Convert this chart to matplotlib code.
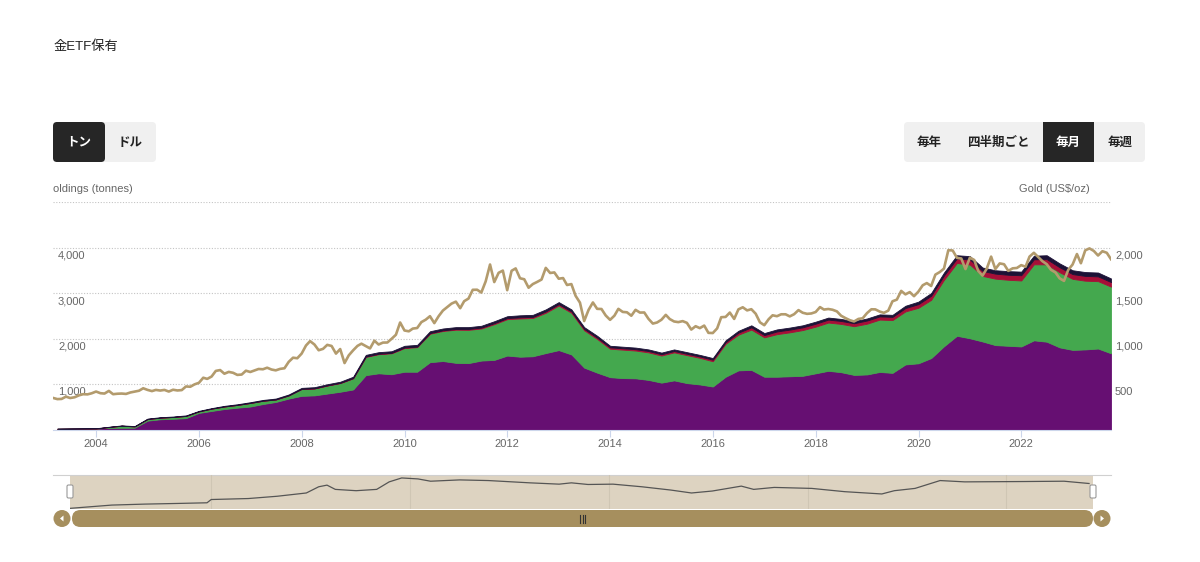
"""Gold ETF holdings by region (stacked, tonnes) with gold price overlay."""

import matplotlib

matplotlib.use("Agg")
import matplotlib.pyplot as plt  # noqa: E402
from matplotlib.patches import Circle, FancyBboxPatch, Polygon, Rectangle  # noqa: E402
import pandas as pd  # noqa: E402

plt.rcParams["font.family"] = ["Liberation Sans", "Noto Sans CJK JP", "DejaVu Sans"]

# gold price, US$/oz, month end (Feb 2003 .. Sep 2023)
gold_2003 = [347, 334, 336, 361, 346, 354, 375, 388, 386, 398, 417]
gold_2004 = [399, 395, 424, 388, 393, 395, 391, 407, 416, 426, 453, 435]
gold_2005 = [422, 435, 428, 435, 417, 437, 429, 433, 473, 470, 496, 513]
gold_2006 = [569, 556, 582, 644, 653, 613, 633, 623, 600, 604, 646, 632]
gold_2007 = [650, 665, 662, 679, 659, 650, 666, 673, 743, 789, 783, 834]
gold_2008 = [923, 971, 934, 871, 886, 930, 918, 834, 884, 730, 815, 870]
gold_2009 = [919, 943, 917, 891, 976, 934, 955, 956, 996, 1041, 1176, 1088]
gold_2010 = [1079, 1109, 1115, 1180, 1207, 1245, 1169, 1246, 1307, 1346, 1383, 1405]
gold_2011 = [1333, 1410, 1439, 1535, 1536, 1505, 1628, 1813, 1620, 1722, 1746, 1531]
gold_2012 = [1744, 1770, 1662, 1651, 1558, 1598, 1622, 1648, 1776, 1720, 1726, 1657]
gold_2013 = [1664, 1588, 1598, 1469, 1394, 1192, 1314, 1396, 1326, 1324, 1253, 1205]
gold_2014 = [1251, 1326, 1292, 1288, 1250, 1315, 1285, 1286, 1216, 1164, 1176, 1206]
gold_2015 = [1260, 1214, 1187, 1180, 1191, 1172, 1098, 1135, 1114, 1142, 1062, 1060]
gold_2016 = [1111, 1234, 1237, 1285, 1215, 1320, 1343, 1309, 1322, 1272, 1178, 1146]
gold_2017 = [1212, 1255, 1245, 1266, 1266, 1243, 1267, 1312, 1283, 1271, 1275, 1291]
gold_2018 = [1345, 1318, 1324, 1316, 1298, 1250, 1224, 1201, 1187, 1215, 1222, 1279]
gold_2019 = [1321, 1320, 1296, 1282, 1306, 1409, 1427, 1523, 1485, 1510, 1465, 1515]
gold_2020 = [1585, 1609, 1577, 1702, 1730, 1768, 1971, 1967, 1887, 1879, 1763, 1888]
gold_2021 = [1863, 1743, 1691, 1768, 1900, 1763, 1825, 1816, 1743, 1771, 1775, 1806]
gold_2022 = [1789, 1900, 1942, 1897, 1849, 1817, 1754, 1726, 1661, 1633, 1754, 1813]
gold_2023 = [1928, 1827, 1969, 1990, 1962, 1912, 1959, 1942, 1871]

gold = (gold_2003 + gold_2004 + gold_2005 + gold_2006 + gold_2007 + gold_2008
        + gold_2009 + gold_2010 + gold_2011 + gold_2012 + gold_2013 + gold_2014
        + gold_2015 + gold_2016 + gold_2017 + gold_2018 + gold_2019 + gold_2020
        + gold_2021 + gold_2022 + gold_2023)

# holdings by region, tonnes, quarter end (2003Q1 .. 2023Q3)
north_america = [
    15, 18, 20, 22, 35, 38, 40, 195, 225, 235, 250, 365,
    408, 450, 480, 505, 560, 605, 680, 740, 750, 790, 830, 880,
    1195, 1235, 1215, 1270, 1270, 1480, 1505, 1465, 1460, 1515, 1530, 1625,
    1600, 1610, 1680, 1745, 1650, 1360, 1250, 1150, 1130, 1125, 1090, 1030,
    1080, 1020, 990, 945, 1160, 1300, 1310, 1160, 1160, 1170, 1180, 1235,
    1290, 1260, 1200, 1210, 1265, 1245, 1430, 1455, 1570, 1830, 2060, 2005,
    1935, 1855, 1840, 1825, 1960, 1930, 1805, 1750, 1760, 1780, 1675,
]
europe = [
    0, 0, 0, 0, 20, 45, 28, 35, 35, 40, 48, 33,
    50, 56, 60, 78, 72, 55, 70, 152, 150, 175, 190, 245,
    400, 420, 460, 520, 540, 625, 660, 728, 730, 705, 785, 800,
    840, 840, 885, 980, 915, 820, 740, 625, 625, 610, 605, 595,
    615, 615, 585, 555, 725, 785, 885, 865, 935, 965, 1005, 1025,
    1060, 1060, 1070, 1115, 1150, 1160, 1165, 1220, 1280, 1460, 1600, 1620,
    1440, 1460, 1450, 1450, 1670, 1700, 1650, 1560, 1510, 1480, 1465,
]
asia = [
    0, 0, 0, 0, 0, 0, 0, 0, 0, 0, 0, 0,
    0, 0, 0, 0, 0, 0, 0, 0, 5, 5, 5, 5,
    10, 10, 10, 12, 12, 15, 15, 17, 20, 20, 23, 23,
    25, 25, 30, 30, 30, 30, 30, 30, 30, 30, 30, 30,
    30, 30, 30, 35, 35, 45, 50, 50, 60, 60, 60, 65,
    65, 65, 65, 70, 70, 70, 75, 80, 90, 95, 100, 110,
    110, 110, 110, 115, 110, 115, 110, 105, 105, 105, 100,
]
other = [
    5, 5, 6, 6, 5, 7, 7, 10, 10, 10, 12, 12,
    12, 14, 15, 17, 18, 20, 20, 23, 25, 25, 25, 30,
    35, 35, 35, 38, 38, 40, 40, 40, 40, 40, 42, 42,
    45, 45, 45, 45, 45, 40, 40, 35, 35, 35, 35, 35,
    35, 35, 35, 35, 40, 40, 45, 45, 45, 45, 45, 45,
    45, 45, 45, 45, 45, 45, 50, 55, 60, 65, 70, 75,
    75, 75, 80, 80, 80, 85, 85, 85, 85, 85, 80,
]

year_ticks = list(range(2004, 2024, 2))
left_ticks = [1000, 2000, 3000, 4000]
right_ticks = [500, 1000, 1500, 2000]

# navigator overview line (relative level)
nav_dates = ["2003-03", "2004-01", "2004-09", "2005-05", "2005-12", "2006-01",
             "2006-10", "2007-05", "2007-12", "2008-03", "2008-05", "2008-07",
             "2008-12", "2009-05", "2009-08", "2009-11", "2010-03", "2010-06",
             "2011-01", "2011-08", "2012-06", "2013-01", "2013-04", "2013-08",
             "2014-02", "2014-09", "2015-04", "2015-09", "2016-02", "2016-09",
             "2016-12", "2017-05", "2018-02", "2018-10", "2019-07", "2019-10",
             "2020-03", "2020-09", "2021-03", "2022-05", "2023-03", "2023-09"]
nav_level = [0, 10, 13, 15, 17, 27, 30, 37, 47, 66, 71, 58,
             54, 58, 81, 93, 90, 83, 87, 85, 78, 74, 78, 73,
             74, 66, 56, 47, 53, 68, 58, 64, 61, 51, 44, 54,
             61, 85, 81, 82, 83, 76]

COLORS = ["#660f72", "#44a84e", "#a60f37", "#1c1236"]
GOLD = "#b39b6d"

W, H = 1200, 562
fig = plt.figure(figsize=(W / 100, H / 100), dpi=100)


def box(x0, y0, x1, y1):
    """Pixel box (top-left origin) -> figure fraction rect."""
    return [x0 / W, 1 - y1 / H, (x1 - x0) / W, (y1 - y0) / H]


# overlay for the page furniture, in pixel coordinates
ui = fig.add_axes([0, 0, 1, 1], zorder=0)
ui.set_xlim(0, W)
ui.set_ylim(H, 0)
ui.axis("off")

ui.text(53, 47, "金ETF保有", fontsize=9.5, va="center", ha="left", color="#222")

# unit toggle buttons
ui.add_patch(FancyBboxPatch((53, 122), 103, 40, boxstyle="round,pad=0,rounding_size=4",
                            fc="#f0f0f0", ec="none"))
ui.add_patch(FancyBboxPatch((53, 122), 52, 40, boxstyle="round,pad=0,rounding_size=4",
                            fc="#262626", ec="none"))
ui.text(79, 143, "トン", color="white", fontsize=9, weight="bold", ha="center", va="center")
ui.text(130, 143, "ドル", color="#222", fontsize=9, weight="bold", ha="center", va="center")

# period buttons
ui.add_patch(FancyBboxPatch((904, 122), 241, 40, boxstyle="round,pad=0,rounding_size=4",
                            fc="#f0f0f0", ec="none"))
ui.add_patch(Rectangle((1043, 122), 51, 40, fc="#262626", ec="none"))
for label, cx, col in [("毎年", 929, "#222"), ("四半期ごと", 998, "#222"),
                       ("毎月", 1068, "white"), ("毎週", 1120, "#222")]:
    ui.text(cx, 143, label, color=col, fontsize=9, weight="bold", ha="center", va="center")

ui.text(53, 189, "oldings (tonnes)", fontsize=8, color="#666", va="center", ha="left")
ui.text(1090, 189, "Gold (US$/oz)", fontsize=8, color="#666", va="center", ha="right")

# main chart
qdates = pd.date_range("2003-03-31", periods=len(north_america), freq="QE").to_pydatetime()
mdates = pd.date_range("2003-02-28", periods=len(gold), freq="ME").to_pydatetime()

ax = fig.add_axes(box(53, 202, 1111, 429.5), zorder=2)
ax.patch.set_alpha(0)
for v in left_ticks + [5000]:
    ax.axhline(v, color="#c4c4c4", lw=0.8, ls=(0, (1, 1.5)), zorder=0)
polys = ax.stackplot(qdates, north_america, europe, asia, other, colors=COLORS, zorder=1)
for p, c in zip(polys, COLORS):
    p.set_edgecolor(c)
    p.set_linewidth(0.6)
ax.set_xlim(mdates[0], mdates[-1])
ax.set_ylim(0, 5000)
for s in ["top", "left", "right"]:
    ax.spines[s].set_visible(False)
ax.spines["bottom"].set_color("#ccd6eb")
ax.set_yticks([])
ax.set_xticks([pd.Timestamp(f"{y}-01-01").to_pydatetime() for y in year_ticks])
ax.set_xticklabels([str(y) for y in year_ticks])
ax.tick_params(axis="x", length=5, color="#ccd6eb", labelcolor="#666", labelsize=8, pad=2)
for v in left_ticks:
    ax.annotate(f"{v:,}", xy=(0, v), xycoords=("axes fraction", "data"),
                xytext=(5, -8), textcoords="offset pixels",
                ha="left", va="center", fontsize=8, color="#666")

ax2 = ax.twinx()
ax2.plot(mdates, gold, color=GOLD, lw=1.9, solid_joinstyle="round")
ax2.set_ylim(0, 2500)
ax2.set_yticks([])
for s in ax2.spines.values():
    s.set_visible(False)
for v in right_ticks:
    ax2.annotate(f"{v:,}", xy=(1, v), xycoords=("axes fraction", "data"),
                 xytext=(4, -8), textcoords="offset pixels",
                 ha="left", va="center", fontsize=8, color="#666")

# navigator
ui.plot([53, 1111], [474.5, 474.5], color="#d0d0d0", lw=0.8)
ui.add_patch(Rectangle((70, 475), 1023, 34, fc="#ddd3c1", ec="none"))
nav = fig.add_axes(box(70, 475, 1093, 509), zorder=2)
nav.patch.set_alpha(0)
for y in range(2006, 2024, 4):
    nav.axvline(pd.Timestamp(f"{y}-01-01").to_pydatetime(), color="#cfc6b4", lw=0.8)
nav.plot(pd.to_datetime(nav_dates).to_pydatetime(), nav_level, color="#555", lw=0.9)
nav.set_xlim(mdates[0], mdates[-1])
nav.set_ylim(-2, 102)
nav.axis("off")

for hx in (67, 1090):
    ui.add_patch(FancyBboxPatch((hx, 485), 6, 13, boxstyle="round,pad=0,rounding_size=1.5",
                                fc="white", ec="#999", lw=0.8, zorder=3))

# scrollbar
SB = "#a68f5e"
ui.add_patch(FancyBboxPatch((72, 510), 1021, 17, boxstyle="round,pad=0,rounding_size=8.5",
                            fc=SB, ec="none"))
for cx in (62, 1102):
    ui.add_patch(Circle((cx, 518.5), 8.5, fc=SB, ec="none"))
ui.add_patch(Polygon([[63.5, 515.5], [63.5, 521.5], [60, 518.5]], fc="white", ec="none"))
ui.add_patch(Polygon([[1100.5, 515.5], [1100.5, 521.5], [1104, 518.5]],
                     fc="white", ec="none"))
for gx in (580, 582.5, 585):
    ui.plot([gx, gx], [514.5, 522.5], color="#333", lw=0.8)

fig.savefig("out.png", dpi=100)
